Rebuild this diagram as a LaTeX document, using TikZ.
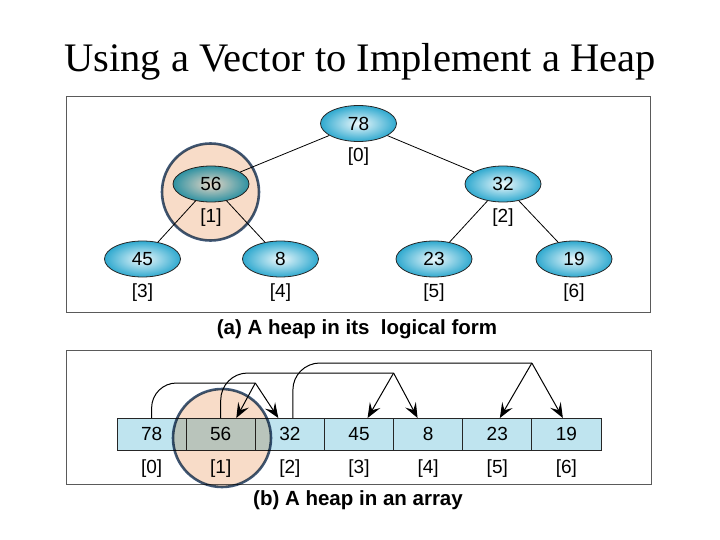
\documentclass[tikz,border=0pt]{standalone}
\usepackage{fontspec}
\setmainfont{Liberation Serif}
\setsansfont{Liberation Sans}
\usetikzlibrary{positioning,shapes.geometric,arrows.meta}

\definecolor{heapcyan}{HTML}{2FA9CF}
\definecolor{heaplight}{HTML}{EEF9FC}
\definecolor{cellblue}{HTML}{BFE4EF}
\definecolor{ringfill}{HTML}{F8DCC8}
\definecolor{ringline}{HTML}{3F5776}
\definecolor{panelline}{HTML}{5A5A5A}

\tikzset{
  heapnode/.style={ellipse, draw=black!85, line width=0.8pt, minimum width=76pt,
    minimum height=36pt, inner sep=0pt, inner color=heaplight, outer color=heapcyan,
    font=\sffamily\fontsize{19}{22}\selectfont},
  idx/.style={inner sep=0pt, font=\sffamily\fontsize{19}{22}\selectfont},
  cell/.style={rectangle, draw=black!85, line width=0.9pt, fill=cellblue,
    minimum width=69.14pt, minimum height=32pt, inner sep=0pt, outer sep=0pt,
    font=\sffamily\fontsize{19}{22}\selectfont},
  panel/.style={draw=panelline, line width=0.9pt},
  caption/.style={font=\sffamily\bfseries\fontsize{20.5}{24}\selectfont},
  ring/.style={circle, draw=ringline, line width=2.6pt, fill=ringfill, inner sep=0pt},
  ptr/.style={-{Stealth[length=15pt,width=12pt,inset=6pt]}, line width=1pt}
}

\begin{document}
\begin{tikzpicture}[x=1pt, y=-1pt, node distance=6pt]
    \useasboundingbox (0,0) rectangle (720,540);

    \node (title) [anchor=base, font=\fontsize{40.5}{46}\selectfont] at (360,72)
        {Using a Vector to Implement a Heap};

    % the two panels
    \draw[panel] (66,96) rectangle (650,312);
    \draw[panel] (66,350) rectangle (651,484);

    % (a) the tree
    \node (n0) [heapnode] at (358.5,123.5) {78};
    \node (n1) [heapnode] at (211,184) {56};
    \node (n2) [heapnode] at (503,184) {32};
    \node (n3) [heapnode] at (142.5,259) {45};
    \node (n4) [heapnode] at (280.5,259) {8};
    \node (n5) [heapnode] at (434,259) {23};
    \node (n6) [heapnode] at (574,259) {19};

    \node (i0) [idx, below=of n0] {[0]};
    \node (i1) [idx, below=of n1] {[1]};
    \node (i2) [idx, below=of n2] {[2]};
    \node (i3) [idx, below=of n3] {[3]};
    \node (i4) [idx, below=of n4] {[4]};
    \node (i5) [idx, below=of n5] {[5]};
    \node (i6) [idx, below=of n6] {[6]};

    % parent to child lines
    \draw[line width=0.8pt] (n0) -- (n1);
    \draw[line width=0.8pt] (n0) -- (n2);
    \draw[line width=0.8pt] (n1) -- (n3);
    \draw[line width=0.8pt] (n1) -- (n4);
    \draw[line width=0.8pt] (n2) -- (n5);
    \draw[line width=0.8pt] (n2) -- (n6);

    \node (capa) [caption] at (357,329) {(a) A heap in its\ \ logical form};

    % (b) the array
    \node (c0) [cell] at (151.6,434) {78};
    \node (c1) [cell, right=0pt of c0] {56};
    \node (c2) [cell, right=0pt of c1] {32};
    \node (c3) [cell, right=0pt of c2] {45};
    \node (c4) [cell, right=0pt of c3] {8};
    \node (c5) [cell, right=0pt of c4] {23};
    \node (c6) [cell, right=0pt of c5] {19};

    \node (j0) [idx, below=10pt of c0] {[0]};
    \node (j1) [idx, below=10pt of c1] {[1]};
    \node (j2) [idx, below=10pt of c2] {[2]};
    \node (j3) [idx, below=10pt of c3] {[3]};
    \node (j4) [idx, below=10pt of c4] {[4]};
    \node (j5) [idx, below=10pt of c5] {[5]};
    \node (j6) [idx, below=10pt of c6] {[6]};

    % where each parent's pointers split
    \coordinate (a0) at ([yshift=35pt]c1.north east);
    \coordinate (a1) at ([yshift=45pt]c3.north east);
    \coordinate (a2) at ([yshift=55pt]c5.north east);

    \draw[line width=1pt, rounded corners=25pt] (c0.north) |- (a0);
    \draw[line width=1pt, rounded corners=27pt] (c1.north) |- (a1);
    \draw[line width=1pt, rounded corners=27pt] ([xshift=3pt]c2.north) |- (a2);

    \draw[ptr] (a0) -- ([xshift=-19pt]c1.north east);
    \draw[ptr] (a0) -- ([xshift=23pt]c1.north east);
    \draw[ptr] (a1) -- ([xshift=-26pt]c3.north east);
    \draw[ptr] (a1) -- ([xshift=24pt]c3.north east);
    \draw[ptr] (a2) -- ([xshift=-32pt]c5.north east);
    \draw[ptr] (a2) -- ([xshift=31pt]c5.north east);

    \node (capb) [caption] at (358,500) {(b) A heap in an array};

    % highlight on element [1]
    \begin{scope}[blend mode=multiply]
        \node (ring1) [ring, minimum size=97pt] at (210.5,192) {};
        \node (ring2) [ring, minimum size=98pt] at (222,438) {};
    \end{scope}
\end{tikzpicture}
\end{document}
